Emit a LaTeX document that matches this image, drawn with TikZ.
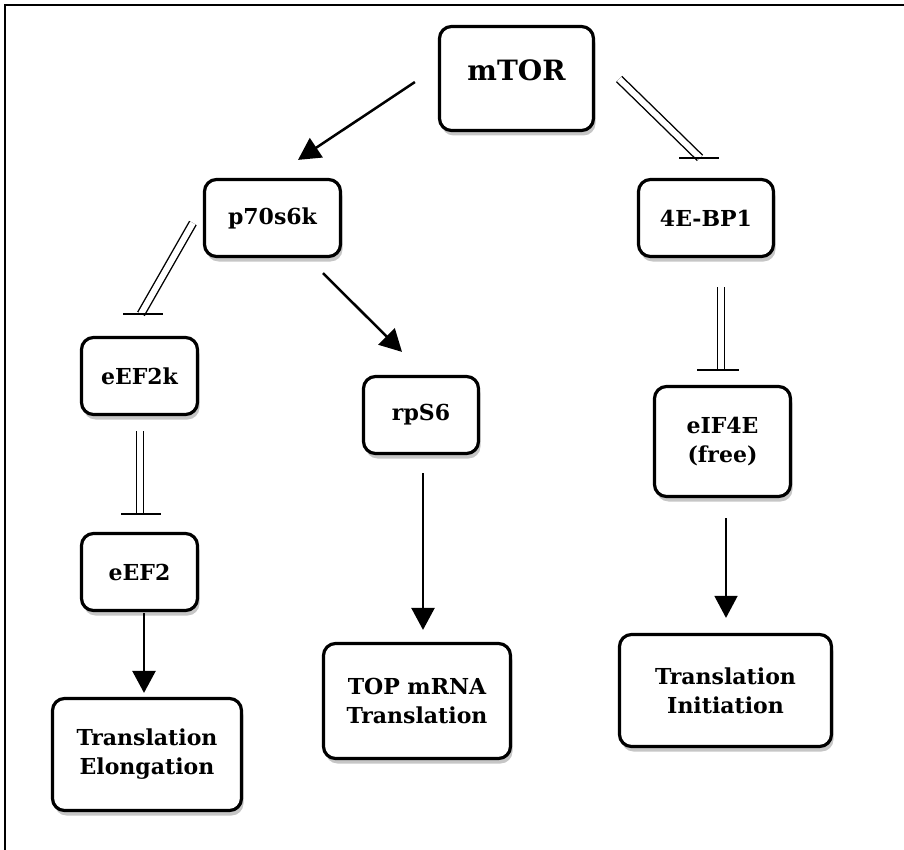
\documentclass[tikz,border=0pt]{standalone}
\usepackage{fontspec}
\setmainfont{DejaVu Serif}
\usetikzlibrary{arrows.meta,calc,shadows}

\tikzset{
  box/.style={draw, line width=3.2pt, rounded corners=12pt, fill=white, align=center,
    font=\bfseries\fontsize{22}{29}\selectfont,
    drop shadow={shadow xshift=2pt, shadow yshift=-5pt, opacity=0.45}},
  act/.style={line width=2.5pt, -{Triangle[length=22pt,width=23pt]}},
  inh/.style={double, double distance=6pt, line width=1.4pt},
  bar/.style={line width=1.7pt}
}

\begin{document}
\begin{tikzpicture}[x=1pt,y=-1pt]
  \useasboundingbox (0,0) rectangle (904,850);
  \draw[line width=1.3pt] (5,850) -- (5,5);
  \draw[line width=2.2pt] (4.4,5) -- (904,5);

  \node[box, minimum width=154pt, minimum height=104pt, font=\bfseries\fontsize{28}{32}\selectfont,
        text height=21pt, text depth=17pt] (mtor) at (516.5,78.5) {mTOR};
  \node[box, minimum width=136pt, minimum height=77pt] (p70) at (272.5,218) {p70s6k};
  \node[box, minimum width=135pt, minimum height=77pt] (bp1) at (706,218) {4E-BP1};
  \node[box, minimum width=116pt, minimum height=77pt] (eef2k) at (139.5,376) {eEF2k};
  \node[box, minimum width=115pt, minimum height=77pt] (rps6) at (421,415) {rpS6};
  \node[box, minimum width=136pt, minimum height=110pt] (eif4e) at (722.5,441.5) {eIF4E\\(free)};
  \node[box, minimum width=116pt, minimum height=77pt] (eef2) at (139.5,572) {eEF2};
  \node[box, minimum width=189pt, minimum height=112pt] (elong) at (147,754.5) {Translation\\Elongation};
  \node[box, minimum width=187pt, minimum height=115pt] (top) at (417,701) {TOP mRNA\\Translation};
  \node[box, minimum width=212pt, minimum height=112pt] (init) at (725.5,690.5) {Translation\\Initiation};

  \coordinate (i1) at ($(bp1.north)+(-6,-20)$);
  \coordinate (i2) at ($(eef2k.north)+(1.5,-22)$);
  \coordinate (i3) at ($(eef2.north)+(0.5,-18)$);
  \coordinate (i4) at ($(eif4e.north)+(-1.5,-15)$);

  \draw[act] ($(mtor.west)+(-23,3.5)$) -- ($(p70.north)+(25.5,-18)$);
  \draw[act] ($(p70.south)+(50.5,15)$) -- ($(rps6.north)+(-19,-23)$);
  \draw[act] ($(rps6.south)+(2,18)$) -- ($(top.north)+(6,-12)$);
  \draw[act, line width=1.6pt] ($(eif4e.south)+(3.5,20)$) -- ($(init.north)+(0.5,-15)$);
  \draw[act] ($(eef2.south)+(4.5,1)$) -- ($(elong.north)+(-3,-4)$);

  \draw[inh] ($(mtor.east)+(24,0.5)$) -- (i1);
  \draw[inh] ($(p70.west)+(-10,5)$) -- (i2);
  \draw[inh] ($(eef2k.south)+(0.5,15)$) -- (i3);
  \draw[inh] ($(bp1.south)+(15,29)$) -- (i4);
  \draw[bar] ($(i1)+(-21,0)$) -- ($(i1)+(19,0)$);
  \draw[bar] ($(i2)+(-18,0)$) -- ($(i2)+(22,0)$);
  \draw[bar] ($(i3)+(-19,0)$) -- ($(i3)+(21,0)$);
  \draw[bar] ($(i4)+(-24,0)$) -- ($(i4)+(18,0)$);
\end{tikzpicture}
\end{document}
